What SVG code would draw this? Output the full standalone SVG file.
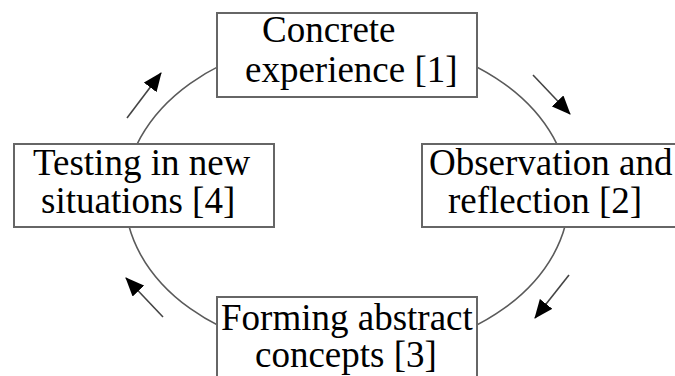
<svg xmlns="http://www.w3.org/2000/svg" width="675" height="376" viewBox="0 0 675 376">
<style>
.box{fill:#fff;stroke:#666;stroke-width:2}
.lbl{font-family:"Liberation Serif","Times New Roman",serif;font-size:37px;fill:#000}
.ring{fill:none;stroke:#5a5a5a;stroke-width:1.6}
.arr{stroke:#444;stroke-width:1.6;fill:none;marker-end:url(#ah)}
</style>
<defs>
<marker id="ah" viewBox="0 0 19 16" refX="18" refY="8" markerWidth="19" markerHeight="16" markerUnits="userSpaceOnUse" orient="auto">
<path d="M0,0 L19,8 L0,16 z" fill="#000"/>
</marker>
</defs>
<rect width="675" height="376" fill="#fff"/>
<g id="connectors">
<ellipse class="ring" cx="347" cy="196" rx="222" ry="159"/>
<line class="arr" x1="127" y1="118" x2="161" y2="73"/>
<line class="arr" x1="533" y1="75" x2="570" y2="114"/>
<line class="arr" x1="569" y1="275" x2="535" y2="318"/>
<line class="arr" x1="163" y1="317" x2="126" y2="278"/>
</g>
<g id="node1">
<rect class="box" x="217" y="13" width="260" height="84"/>
<text class="lbl" x="262" y="42">Concrete</text>
<text class="lbl" x="245" y="82">experience [1]</text>
</g>
<g id="node2">
<rect class="box" x="422" y="144" width="270" height="83"/>
<text class="lbl" x="429" y="175">Observation and</text>
<text class="lbl" x="448" y="213">reflection [2]</text>
</g>
<g id="node3">
<rect class="box" x="217" y="297" width="260" height="90"/>
<text class="lbl" x="221" y="330">Forming abstract</text>
<text class="lbl" x="255" y="367">concepts [3]</text>
</g>
<g id="node4">
<rect class="box" x="14" y="144" width="260" height="83"/>
<text class="lbl" x="33" y="175">Testing in new</text>
<text class="lbl" x="41" y="213">situations [4]</text>
</g>
</svg>
